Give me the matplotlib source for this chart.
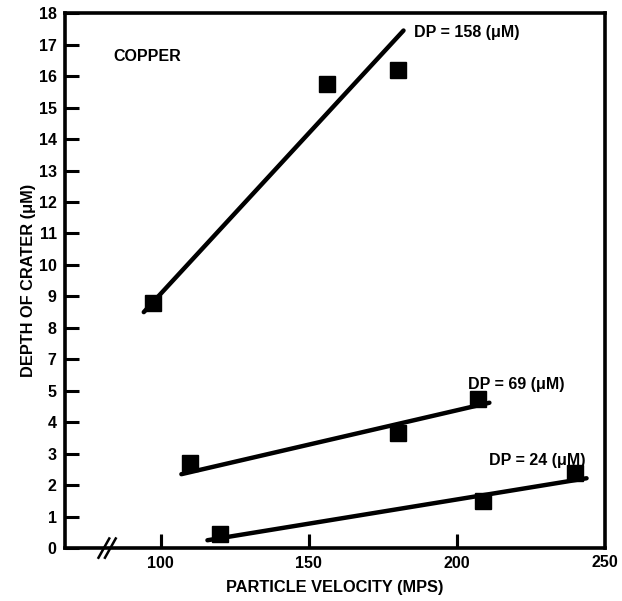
import numpy as np
import matplotlib
matplotlib.use("Agg")
import matplotlib.pyplot as plt

plt.rcParams['font.family'] = ['Liberation Sans', 'DejaVu Sans']
plt.rcParams['font.weight'] = 'bold'

# measured points (velocity in MPS, crater depth in uM)
v158 = [97.5, 156, 180]
d158 = [8.8, 15.75, 16.2]
v69 = [110, 180, 207]
d69 = [2.7, 3.65, 4.75]
v24 = [120, 209, 240]
d24 = [0.45, 1.5, 2.4]

# hand drawn fit lines (end points)
fit158_v = [94.3, 182]
fit158_d = [8.5, 17.45]
fit69_v = [107, 211]
fit69_d = [2.35, 4.62]
fit24_v = [115.8, 243.8]
fit24_d = [0.25, 2.22]

# the original axis skips "6"
ytick_labels = [0, 1, 2, 3, 4, 5, 7, 8, 9, 10, 11, 12, 13, 14, 15, 16, 17, 18]
xticks = [100, 150, 200]


def fwd(v):
    v = np.asarray(v, dtype=float)
    return np.where(v <= 5, v, np.where(v >= 7, v - 1, 5 + (v - 5) / 2))


def inv(p):
    p = np.asarray(p, dtype=float)
    return np.where(p <= 5, p, np.where(p >= 6, p + 1, 5 + (p - 5) * 2))


fig = plt.figure(figsize=(6.22, 6.01), dpi=100)
ax = fig.add_axes([0.1045, 0.088, 0.868, 0.89])
ax.set_yscale('function', functions=(fwd, inv))

for v, d, fv, fd in [(v158, d158, fit158_v, fit158_d),
                     (v69, d69, fit69_v, fit69_d),
                     (v24, d24, fit24_v, fit24_d)]:
    ax.plot(fv, fd, color='black', lw=3.2, solid_capstyle='round')
    ax.plot(v, d, 's', color='black', ms=12)

ax.set_xlim(67.7, 250)
ax.set_ylim(0, 18)
ax.set_yticks(ytick_labels)
ax.set_yticklabels([str(t) for t in ytick_labels])
ax.yaxis.set_minor_locator(matplotlib.ticker.NullLocator())
ax.set_xticks(xticks)
ax.set_xticklabels([str(t) for t in xticks])
for s in ax.spines.values():
    s.set_linewidth(2.6)

# make sure the inward x ticks show up
ax.vlines(xticks, 0, 0.024, transform=ax.get_xaxis_transform(),
          color='black', lw=2.2, zorder=5)

# 250 label at the right end of the axis
ax.text(1.0, -0.026, '250', transform=ax.transAxes, ha='center', va='center',
        fontsize=11.5, fontweight='bold')

# axis break marks
for dx in (0, 0.012):
    ax.plot([0.062 + dx, 0.082 + dx], [-0.018, 0.018], transform=ax.transAxes,
            color='black', lw=1.8, clip_on=False)

ax.text(0.09, 0.92, 'COPPER', transform=ax.transAxes, fontsize=11.5,
        fontweight='bold', va='center')
ax.text(185.5, 17.4, 'DP = 158 (\u03bcM)', fontsize=11.5, fontweight='bold', va='center')
ax.text(203.7, 5.4, 'DP = 69 (\u03bcM)', fontsize=11.5, fontweight='bold', va='center')
ax.text(210.8, 2.8, 'DP = 24 (\u03bcM)', fontsize=11.5, fontweight='bold', va='center')

ax.set_xlabel('PARTICLE VELOCITY (MPS)', fontsize=11.8, fontweight='bold', labelpad=6)
ax.set_ylabel('DEPTH OF CRATER (\u03bcM)', fontsize=11.8, fontweight='bold', labelpad=2)

ax.tick_params(axis='y', direction='in', length=10, width=2.2, labelsize=11.5, pad=6)
ax.tick_params(axis='x', direction='in', length=10, width=2.2, labelsize=11.5, pad=6)

fig.savefig('out.png', dpi=100)
